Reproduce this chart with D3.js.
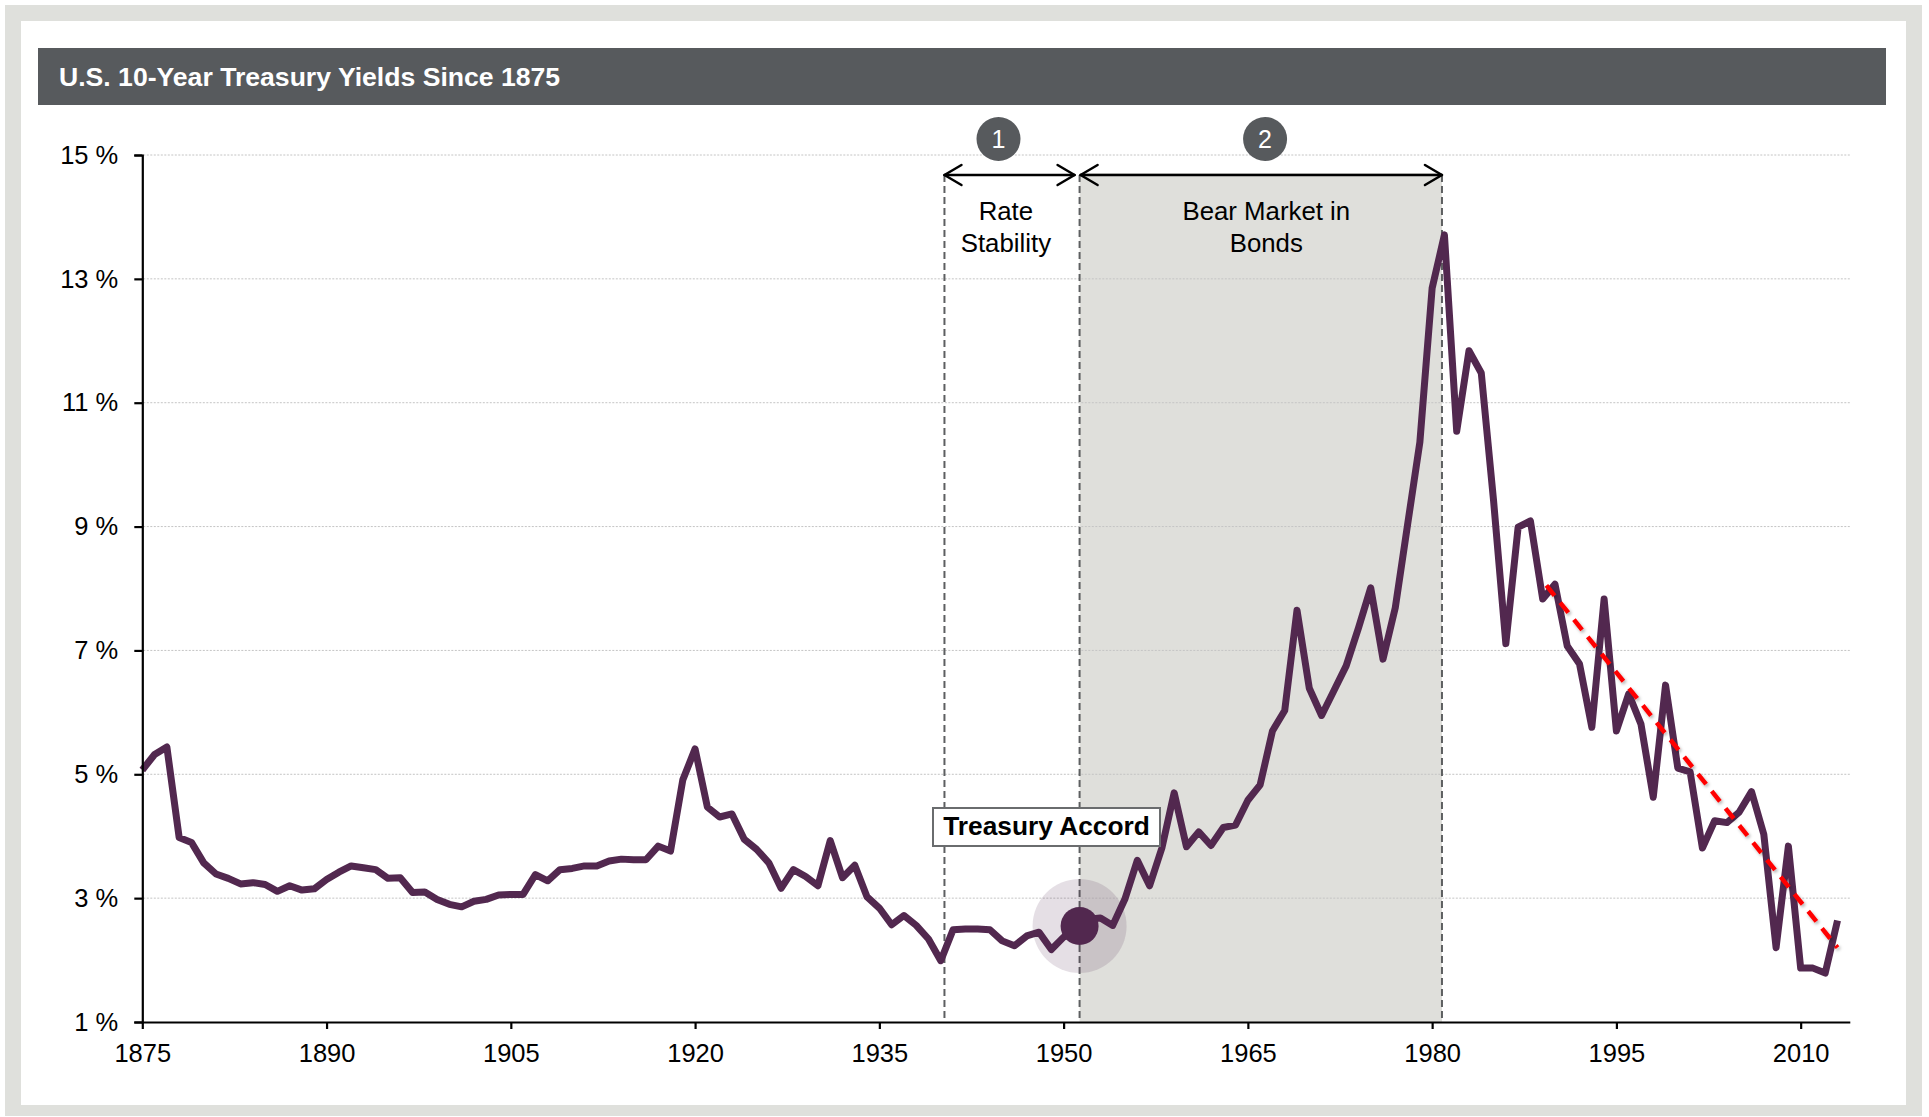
<!DOCTYPE html>
<html>
<head>
<meta charset="utf-8">
<script src="https://cdn.jsdelivr.net/npm/d3@7"></script>
<style>
  html, body { margin: 0; padding: 0; background: #fff; }
  svg { display: block; font-family: "Liberation Sans", Arial, sans-serif; }
</style>
</head>
<body>
<svg id="chart" width="1929" height="1117"></svg>
<script>
// ---- data -------------------------------------------------------------
const years = d3.range(1875, 2014);
const yields = [
  5.07, 5.32, 5.44, 3.98, 3.90, 3.57, 3.39, 3.32, 3.23, 3.25,   // 1875-1884
  3.22, 3.11, 3.20, 3.13, 3.15, 3.30, 3.42, 3.52, 3.49, 3.46,   // 1885-1894
  3.32, 3.33, 3.09, 3.10, 2.98, 2.90, 2.86, 2.95, 2.98, 3.05,   // 1895-1904
  3.06, 3.06, 3.38, 3.28, 3.46, 3.48, 3.52, 3.52, 3.60, 3.63,   // 1905-1914
  3.62, 3.62, 3.84, 3.76, 4.91, 5.41, 4.47, 4.31, 4.36, 3.95,   // 1915-1924
  3.79, 3.57, 3.16, 3.46, 3.35, 3.20, 3.93, 3.33, 3.53, 3.02,   // 1925-1934
  2.84, 2.57, 2.72, 2.56, 2.34, 1.99, 2.49, 2.50, 2.50, 2.49,   // 1935-1944
  2.31, 2.23, 2.39, 2.45, 2.17, 2.37, 2.53, 2.66, 2.68, 2.56,   // 1945-1954
  2.99, 3.61, 3.20, 3.81, 4.70, 3.83, 4.07, 3.85, 4.14, 4.18,   // 1955-1964
  4.58, 4.83, 5.70, 6.03, 7.65, 6.39, 5.95, 6.35, 6.75, 7.36,   // 1965-1974
  8.01, 6.86, 7.69, 9.03, 10.36, 12.85, 13.71, 10.54, 11.84, 11.48, // 1975-1984
  9.42, 7.11, 8.99, 9.09, 7.83, 8.07, 7.07, 6.78, 5.76, 7.83,   // 1985-1994
  5.70, 6.30, 5.81, 4.63, 6.44, 5.10, 5.04, 3.81, 4.25, 4.22,   // 1995-2004
  4.39, 4.72, 4.03, 2.20, 3.84, 1.87, 1.87, 1.79, 2.64          // 2005-2013
];
const yTicks = [1, 3, 5, 7, 9, 11, 13, 15];
const xTicks = [1875, 1890, 1905, 1920, 1935, 1950, 1965, 1980, 1995, 2010];

// period boundaries (years) and their annotations
const periodBounds = [1940.3, 1951.3, 1980.8];
const periodNumbers = ["1", "2"];
const periodBadgeYears = [1944.7, 1966.4];
const periodTextYears = [1945.3, 1966.5];
const periodLabels = [["Rate", "Stability"], ["Bear Market in", "Bonds"]];

const accordYear = 1951.3;
const accordValue = 2.55;
const accordLabel = "Treasury Accord";

const trendYears = [1989.3, 2013.0];
const trendValues = [8.05, 2.2];

const titleText = "U.S. 10-Year Treasury Yields Since 1875";

// ---- setup ------------------------------------------------------------
const svg = d3.select("#chart");
const x = d3.scaleLinear().domain([1875, 2014]).range([142.3, 1849.8]);
const y = d3.scaleLinear().domain([1, 15]).range([1022, 155]);

const lineColor = "#52284f";
const panelGray = "#dfe0dc";
const darkGray = "#575a5d";

const defs = svg.append("defs");
const shadow = defs.append("filter").attr("id", "trendShadow")
  .attr("x", "-10%").attr("y", "-10%").attr("width", "120%").attr("height", "120%");
shadow.append("feDropShadow").attr("dx", 1.5).attr("dy", 2).attr("stdDeviation", 1.6)
  .attr("flood-color", "#000").attr("flood-opacity", 0.3);

// frame
svg.append("rect").attr("x", 5).attr("y", 5).attr("width", 1917).attr("height", 1111)
  .attr("fill", panelGray);
svg.append("rect").attr("x", 21).attr("y", 21).attr("width", 1885).attr("height", 1084)
  .attr("fill", "#fff");

// title bar
svg.append("rect").attr("x", 38).attr("y", 48).attr("width", 1848).attr("height", 57)
  .attr("fill", darkGray);
svg.append("text").attr("x", 59).attr("y", 86)
  .attr("fill", "#fff").attr("font-weight", "bold").attr("font-size", 26.6)
  .text(titleText);

// bear-market shading
const arrowY = 175;
svg.append("rect")
  .attr("x", x(periodBounds[1])).attr("y", arrowY - 2)
  .attr("width", x(periodBounds[2]) - x(periodBounds[1]))
  .attr("height", y(1) - (arrowY - 2))
  .attr("fill", "#dfdfdb");

// gridlines
svg.append("g").selectAll("line")
  .data(yTicks.filter(d => d > 1))
  .join("line")
  .attr("x1", x(1875) + 1).attr("x2", x(2014))
  .attr("y1", d => y(d)).attr("y2", d => y(d))
  .attr("stroke", "#c4c4c4").attr("stroke-width", 1)
  .attr("stroke-dasharray", "2 1.5");

// dashed period boundaries
svg.append("g").selectAll("line")
  .data(periodBounds)
  .join("line")
  .attr("x1", d => x(d)).attr("x2", d => x(d))
  .attr("y1", arrowY).attr("y2", y(1))
  .attr("stroke", "#5d5f61").attr("stroke-width", 2)
  .attr("stroke-dasharray", "7 4");

// accord halo
svg.append("circle")
  .attr("cx", x(accordYear)).attr("cy", y(accordValue)).attr("r", 47)
  .attr("fill", "rgba(82,40,80,0.15)");

// yield line
const line = d3.line().x((d, i) => x(years[i])).y(d => y(d));
svg.append("path")
  .datum(yields)
  .attr("d", line)
  .attr("fill", "none")
  .attr("stroke", lineColor)
  .attr("stroke-width", 7)
  .attr("stroke-linejoin", "round");

// downward trend
svg.append("line")
  .attr("x1", x(trendYears[0])).attr("y1", y(trendValues[0]))
  .attr("x2", x(trendYears[1])).attr("y2", y(trendValues[1]))
  .attr("stroke", "#ff0000").attr("stroke-width", 4.5)
  .attr("stroke-dasharray", "13 9")
  .attr("filter", "url(#trendShadow)");

// accord dot
svg.append("circle")
  .attr("cx", x(accordYear)).attr("cy", y(accordValue)).attr("r", 19)
  .attr("fill", lineColor);

// axes
const yAxis = d3.axisLeft(y).tickValues(yTicks).tickFormat(d => d + " %")
  .tickSize(8).tickPadding(16);
const xAxis = d3.axisBottom(x).tickValues(xTicks).tickFormat(d3.format("d"))
  .tickSize(7).tickPadding(15).tickSizeOuter(0);

function styleAxis(g) {
  g.selectAll("path, line").attr("stroke", "#000").attr("stroke-width", 2.2);
  g.selectAll("text").attr("fill", "#000").attr("font-size", 25.5)
    .attr("font-family", "\"Liberation Sans\", Arial, sans-serif");
}
svg.append("g").attr("transform", `translate(${x(1875)},0)`).call(yAxis).call(styleAxis);
svg.append("g").attr("transform", `translate(0,${y(1)})`).call(xAxis).call(styleAxis);

// Treasury Accord label
const boxX = 933, boxY = 808, boxW = 227, boxH = 38;
svg.append("rect").attr("x", boxX).attr("y", boxY).attr("width", boxW).attr("height", boxH)
  .attr("fill", "#fff").attr("stroke", "#6a6c6e").attr("stroke-width", 2);
svg.append("text").attr("x", boxX + boxW / 2).attr("y", boxY + 27)
  .attr("text-anchor", "middle").attr("font-weight", "bold").attr("font-size", 26.3)
  .attr("fill", "#000").text(accordLabel);

// period arrows
const spans = [
  [x(periodBounds[0]), x(periodBounds[1]) - 5],
  [x(periodBounds[1]) + 1, x(periodBounds[2])]
];
const headL = 17, headH = 10;
const arrows = svg.append("g").attr("fill", "none").attr("stroke", "#000")
  .attr("stroke-width", 2.5).attr("stroke-linecap", "round").attr("stroke-linejoin", "round");
spans.forEach(([a, b]) => {
  arrows.append("path").attr("d", `M${a},${arrowY}H${b}`);
  arrows.append("path").attr("d", `M${a + headL},${arrowY - headH}L${a},${arrowY}L${a + headL},${arrowY + headH}`);
  arrows.append("path").attr("d", `M${b - headL},${arrowY - headH}L${b},${arrowY}L${b - headL},${arrowY + headH}`);
});

// numbered badges
periodNumbers.forEach((n, i) => {
  const cx = x(periodBadgeYears[i]);
  svg.append("circle").attr("cx", cx).attr("cy", 139).attr("r", 22).attr("fill", darkGray);
  svg.append("text").attr("x", cx).attr("y", 148).attr("text-anchor", "middle")
    .attr("fill", "#fff").attr("font-size", 25).text(n);
});

// period labels
periodLabels.forEach((lines, i) => {
  const t = svg.append("text").attr("text-anchor", "middle").attr("font-size", 25.8).attr("fill", "#000");
  lines.forEach((s, j) => {
    t.append("tspan").attr("x", x(periodTextYears[i])).attr("y", 220 + j * 32).text(s);
  });
});
</script>
</body>
</html>
